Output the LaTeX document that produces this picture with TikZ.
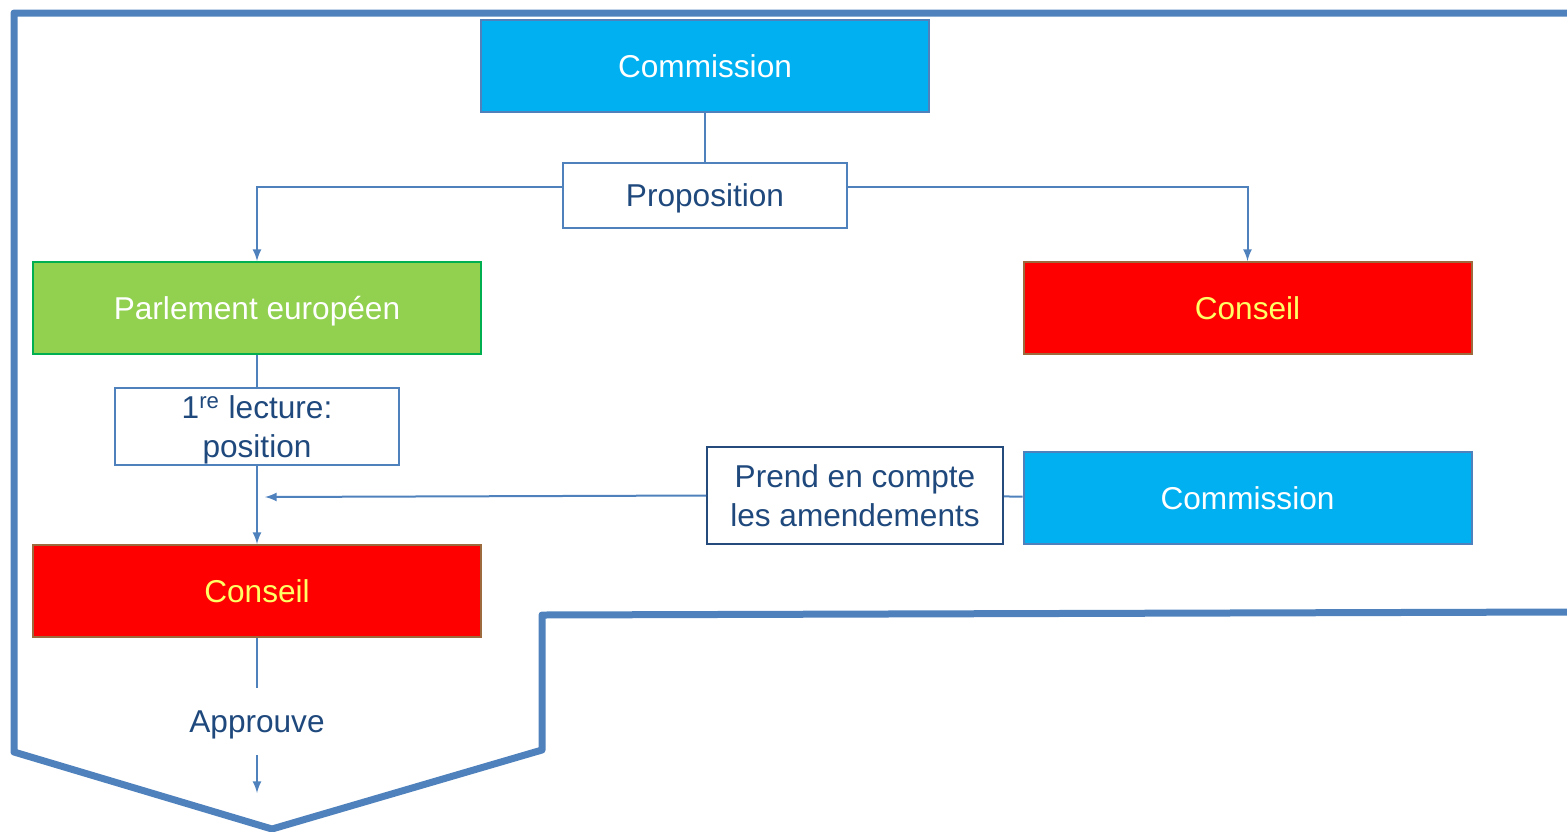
\documentclass[tikz,border=0pt]{standalone}
\usepackage{fontspec}
\setmainfont{Liberation Sans}
\definecolor{contour}{HTML}{4F81BD}
\definecolor{ciel}{HTML}{00B0F0}
\definecolor{herbe}{HTML}{92D050}
\definecolor{herbebord}{HTML}{00B050}
\definecolor{brique}{HTML}{9C6A3C}
\definecolor{jaune}{HTML}{FFFF66}
\definecolor{encre}{HTML}{1F497D}
\definecolor{marine}{HTML}{254A7C}
\tikzset{>=latex}
\tikzset{
    police/.style={font=\fontsize{15.8}{19.5}\selectfont, align=center, inner sep=0pt},
    ligne/.style={police, text height=11.3pt, text depth=0pt},
    grande/.style={ligne, minimum width=224pt, minimum height=46pt},
    bleu/.style={grande, draw=contour, line width=1pt, fill=ciel, text=white},
    vert/.style={grande, draw=herbebord, line width=1pt, fill=herbe, text=white},
    rouge/.style={grande, draw=brique, line width=1pt, fill=red, text=jaune},
    cadre/.style={police, draw=contour, line width=1pt, fill=white, text=encre},
    lien/.style={draw=contour, line width=1pt}
}

\begin{document}
\begin{tikzpicture}[x=0.5pt,y=-0.5pt]
    \useasboundingbox (0,0) rectangle (1567,831);
    \draw[contour, line width=3.5pt, line join=round]
        (1567,13) -- (14,13) -- (14,752) -- (272,829) -- (542,750) -- (542,615) -- (1567,612);

    \node[bleu] (commission) at (705,66) {Commission};
    \node[cadre, ligne, minimum width=142pt, minimum height=32.5pt] (proposition) at (705,195.5) {Proposition};
    \node[vert] (parlement) at (257,308) {Parlement européen};
    \node[rouge] (conseilA) at (1247.5,308) {Conseil};
    \node[cadre, text depth=0pt, minimum width=142pt, minimum height=38.5pt] (lecture) at (257,426.5) {1\textsuperscript{re} lecture:\\position};
    \node[cadre, draw=marine, minimum width=148pt, minimum height=48.5pt] (amend) at (855,495.5) {Prend en compte\\les amendements};
    \node[bleu] (commissionB) at (1247.5,498) {Commission};
    \node[rouge] (conseilB) at (257,591) {Conseil};
    \node[ligne, text=encre, minimum height=33.5pt] (approuve) at (257,721.5) {Approuve};
    \coordinate (retour) at (265,497);
    \coordinate (sortie) at (257,793);

    \draw[lien] (commission) -- (proposition);
    \draw[lien,->] ([yshift=4.25pt]proposition.west) -| (parlement.north);
    \draw[lien,->] ([yshift=4.25pt]proposition.east) -| (conseilA.north);
    \draw[lien] (parlement) -- (lecture);
    \draw[lien,->] (lecture) -- (conseilB);
    \draw[lien,->] (amend.west) -- (retour);
    \draw[lien] (amend) -- (commissionB);
    \draw[lien] (conseilB) -- (approuve);
    \draw[lien,->] (approuve) -- (sortie);
\end{tikzpicture}
\end{document}
